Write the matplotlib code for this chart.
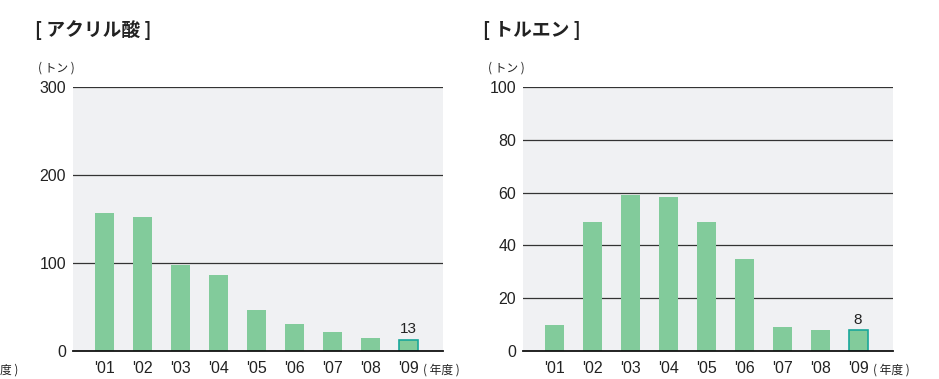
import matplotlib.pyplot as plt

plt.rcParams['font.family'] = ['Noto Sans CJK JP', 'DejaVu Sans']

YEARS = ["'01", "'02", "'03", "'04", "'05", "'06", "'07", "'08", "'09"]
ACRYLIC = [157, 152, 98, 86, 47, 31, 22, 15, 13]
TOLUENE = [10, 49, 59, 58.5, 49, 35, 9, 8, 8]

BAR_COLOR = '#82cb9b'
EDGE_COLOR = '#1aa79a'
BG_COLOR = '#f0f1f3'

fig = plt.figure(figsize=(9.39, 3.79), dpi=100)


def draw_panel(left, values, ymax, step, title, title_x):
    ax = fig.add_axes([left / 939, 28 / 379, 370 / 939, 264 / 379])
    ax.set_facecolor(BG_COLOR)
    x = list(range(len(values)))
    bars = ax.bar(x, values, width=0.5, color=BAR_COLOR, zorder=3)
    bars[-1].set_edgecolor(EDGE_COLOR)
    bars[-1].set_linewidth(1.2)
    ax.text(x[-1], values[-1] + ymax * 0.012, f'{values[-1]:g}',
            ha='center', va='bottom', fontsize=11, color='#222222',
            family='Liberation Sans')
    ax.set_xlim(-0.82, len(values) - 0.08)
    ax.set_ylim(0, ymax)
    ticks = list(range(0, ymax + 1, step))
    ax.set_yticks(ticks)
    ax.set_yticklabels([str(t) for t in ticks], family='Liberation Sans', fontsize=11.5)
    ax.set_xticks(x)
    ax.set_xticklabels(YEARS, family='Liberation Sans', fontsize=11.5)
    ax.tick_params(length=0, pad=7, colors='#222222')
    ax.tick_params(axis='y', pad=5)
    for t in ticks[1:]:
        ax.axhline(t, color='#333333', lw=0.9, zorder=2)
    for s in ['top', 'right', 'left']:
        ax.spines[s].set_visible(False)
    ax.spines['bottom'].set_color('#111111')
    ax.spines['bottom'].set_linewidth(1.3)
    ax.spines['bottom'].set_zorder(4)
    fig.text(title_x / 939, 1 - 30 / 379, title, fontsize=13.5, fontweight='bold',
             va='center', ha='left', color='#222222')
    fig.text((left - 35) / 939, 1 - 68 / 379, '( トン )', fontsize=8.5,
             va='center', ha='left', color='#222222')
    fig.text((left + 350) / 939, 1 - 370 / 379, '( 年度 )', fontsize=8.5,
             va='center', ha='left', color='#222222')
    return ax


draw_panel(73, ACRYLIC, 300, 100, '[ アクリル酸 ]', 35)
draw_panel(523, TOLUENE, 100, 20, '[ トルエン ]', 483)
fig.text(0, 1 - 370 / 379, '度 )', fontsize=8.5, va='center', ha='left', color='#222222')

fig.savefig('out.png', dpi=100)
